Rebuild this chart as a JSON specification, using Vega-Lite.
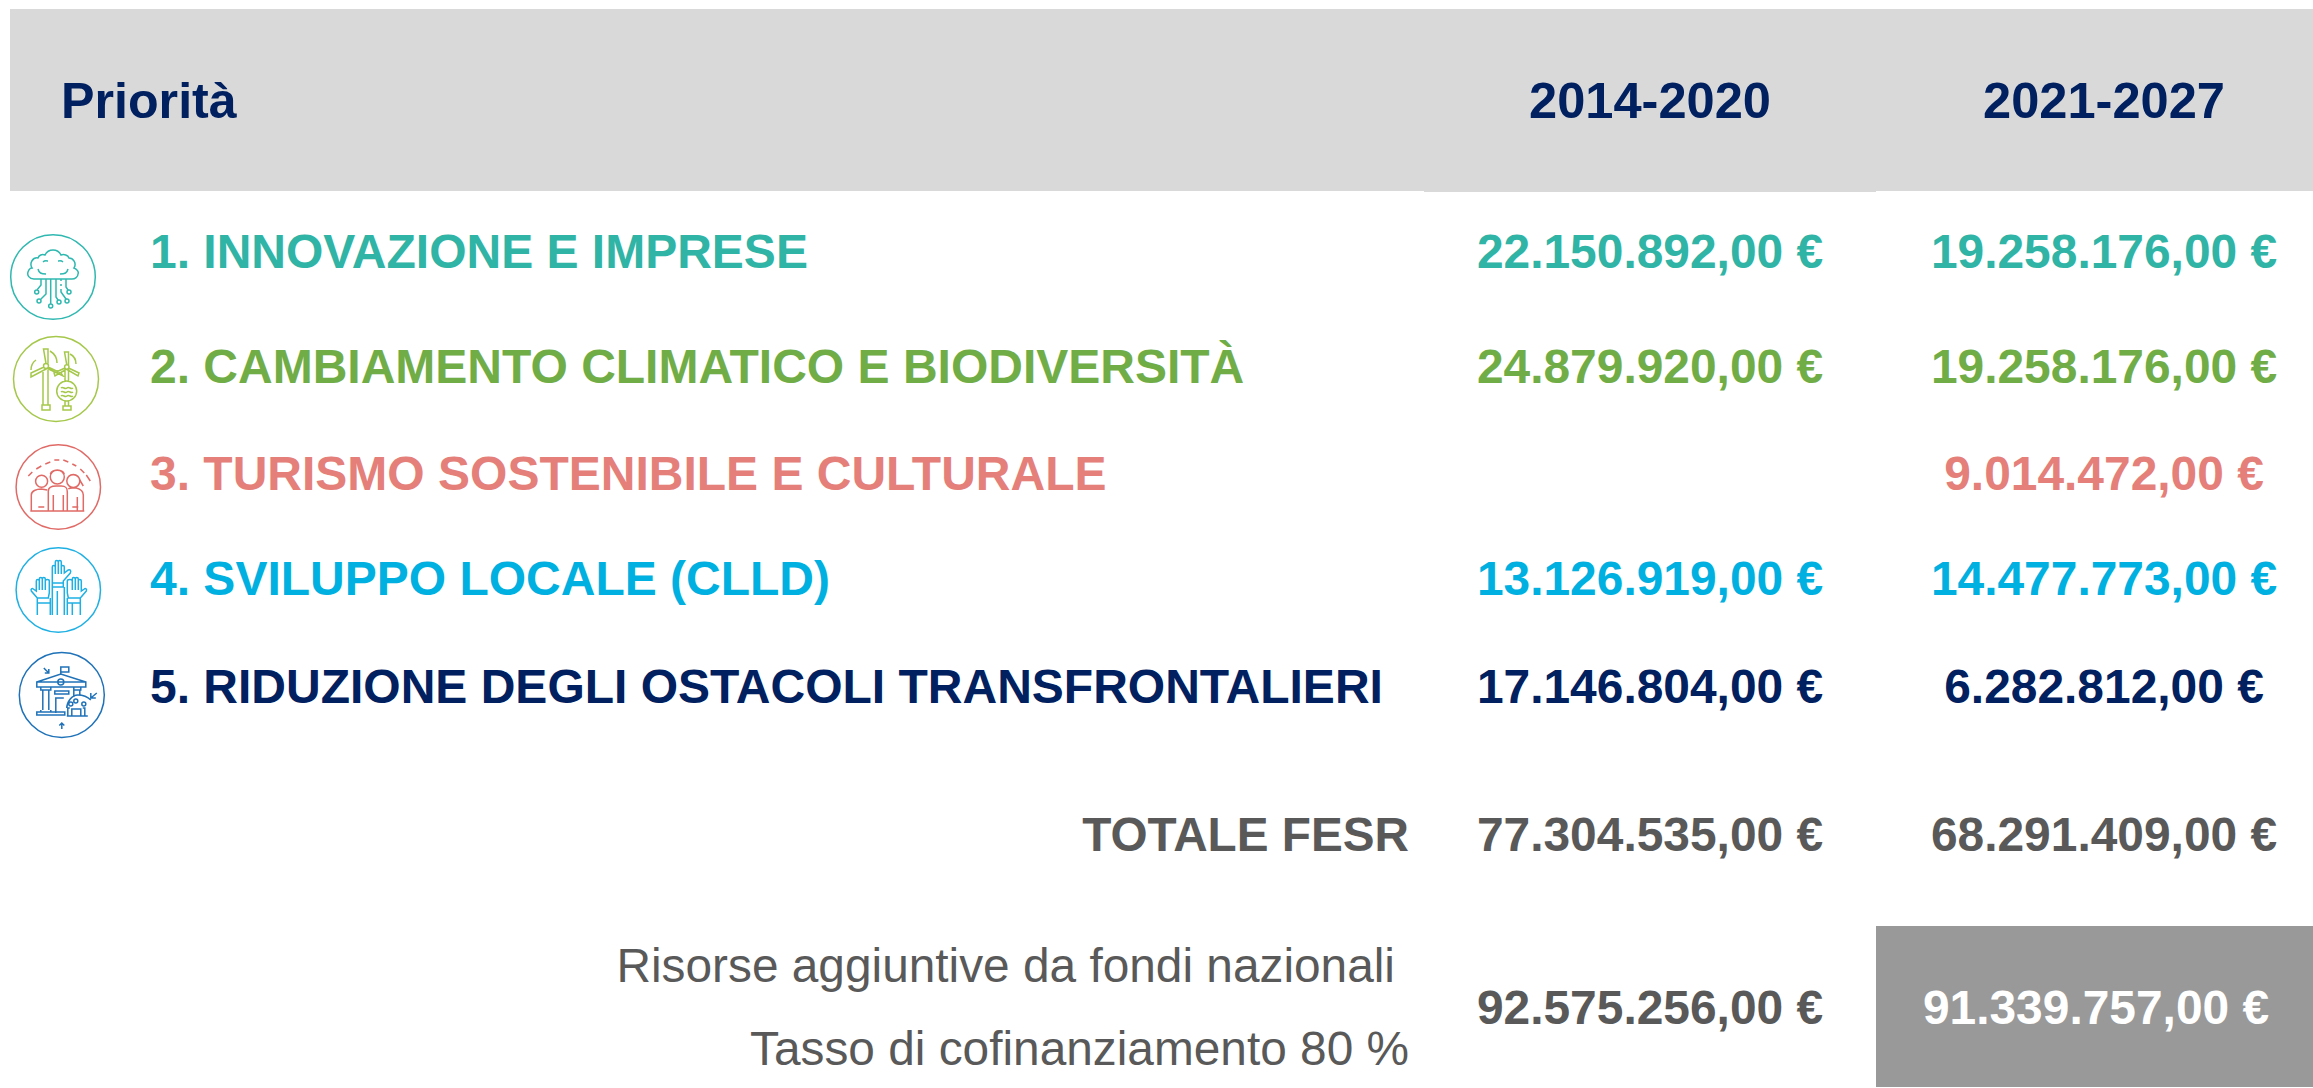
{
"$schema":"https://vega.github.io/schema/vega-lite/v6.json",
"width":2313,"height":1088,"padding":0,
"autosize":{"type":"fit","contains":"padding"},
"background":"#ffffff",
"config":{"view":{"stroke":null}},
"datasets":{
"sfondi":[
{"gruppo":"sfondo","col":1,"col2":15,"riga":1,"riga2":3},
{"gruppo":"sfondo","col":10,"col2":12,"riga":3,"riga2":3.5},
{"gruppo":"riquadro","col":12,"col2":15,"riga":15,"riga2":19}
],
"icone":[
{"icona":"1","col":2,"riga":5},
{"icona":"2","col":3,"riga":6},
{"icona":"3","col":4,"riga":8},
{"icona":"4","col":4,"riga":10},
{"icona":"5","col":6,"riga":12}
],
"testata":[{"gruppo":"testata","col":5,"riga":2,"testo":"Priorità"}],
"anni":[
{"gruppo":"testata","col":11,"riga":2,"testo":"2014-2020"},
{"gruppo":"testata","col":14,"riga":2,"testo":"2021-2027"}
],
"voci":[
{"gruppo":"p1","col":7,"riga":4,"testo":"1. INNOVAZIONE E IMPRESE"},
{"gruppo":"p2","col":7,"riga":7,"testo":"2. CAMBIAMENTO CLIMATICO E BIODIVERSITÀ"},
{"gruppo":"p3","col":7,"riga":9,"testo":"3. TURISMO SOSTENIBILE E CULTURALE"},
{"gruppo":"p4","col":7,"riga":11,"testo":"4. SVILUPPO LOCALE (CLLD)"},
{"gruppo":"p5","col":7,"riga":13,"testo":"5. RIDUZIONE DEGLI OSTACOLI TRANSFRONTALIERI"}
],
"importi":[
{"gruppo":"p1","col":11,"riga":4,"testo":"22.150.892,00 €"},
{"gruppo":"p1","col":14,"riga":4,"testo":"19.258.176,00 €"},
{"gruppo":"p2","col":11,"riga":7,"testo":"24.879.920,00 €"},
{"gruppo":"p2","col":14,"riga":7,"testo":"19.258.176,00 €"},
{"gruppo":"p3","col":14,"riga":9,"testo":"9.014.472,00 €"},
{"gruppo":"p4","col":11,"riga":11,"testo":"13.126.919,00 €"},
{"gruppo":"p4","col":14,"riga":11,"testo":"14.477.773,00 €"},
{"gruppo":"p5","col":11,"riga":13,"testo":"17.146.804,00 €"},
{"gruppo":"p5","col":14,"riga":13,"testo":"6.282.812,00 €"},
{"gruppo":"totale","col":11,"riga":14,"testo":"77.304.535,00 €"},
{"gruppo":"totale","col":14,"riga":14,"testo":"68.291.409,00 €"},
{"gruppo":"totale","col":11,"riga":17,"testo":"92.575.256,00 €"},
{"gruppo":"bianco","col":13,"riga":17,"testo":"91.339.757,00 €"}
],
"totale":[{"gruppo":"totale","col":9,"riga":14,"testo":"TOTALE FESR"}],
"note":[
{"gruppo":"totale","col":8,"riga":16,"testo":"Risorse aggiuntive da fondi nazionali"},
{"gruppo":"totale","col":9,"riga":18,"testo":"Tasso di cofinanziamento 80 %"}
]
},
"encoding":{
"x":{"field":"col","type":"quantitative","axis":null,"scale":{"nice":false,"zero":false,
"domain":[0,1,2,3,4,5,6,7,8,9,10,11,12,13,14,15],
"range":[0,10,53,56,58.3,61,61.8,150,1395,1409,1424,1650,1876,2096,2104,2313]}},
"y":{"field":"riga","type":"quantitative","axis":null,"scale":{"nice":false,"zero":false,
"domain":[0,1,2,3,3.5,4,5,6,7,8,9,10,11,12,13,14,15,16,17,18,19,20],
"range":[0,9,118,191,192,268,277,379,383,487,490,590,595,695,703,851,926,982,1024,1065,1087,1088]}},
"color":{"field":"gruppo","type":"nominal","legend":null,"scale":{
"domain":["sfondo","riquadro","testata","p1","p2","p3","p4","p5","totale","bianco"],
"range":["#D9D9D9","#999999","#002060","#2FB4A5","#70AD47","#E57F7A","#00B0E0","#002060","#595959","#FFFFFF"]}}
},
"layer":[
{"data":{"name":"sfondi"},"mark":{"type":"rect"},"encoding":{"x2":{"field":"col2"},"y2":{"field":"riga2"}}},
{"data":{"name":"icone"},"mark":{"type":"point","filled":false,"size":4,"strokeWidth":1.5,"opacity":1},
"encoding":{"color":{"value":null},
"stroke":{"field":"icona","type":"nominal","legend":null,"scale":{"domain":["1","2","3","4","5"],"range":["#2FB8B0","#A5C84B","#E06A66","#1FB0E3","#1F72B8"]}},
"shape":{"field":"icona","type":"nominal","legend":null,"scale":{"domain":["1","2","3","4","5"],"range":[
"M42.3,0A42.3,42.3 0 1 1 -42.3,0A42.3,42.3 0 1 1 42.3,0ZM-19,2C-24,2 -26,-2 -25,-5C-24,-8 -22,-9 -21,-9C-24,-14 -20,-20 -15,-19C-14,-22 -11,-23 -8,-22C-6,-26 -3,-27 0,-27C3,-27 6,-26 8,-22C11,-23 15,-22 16,-19C20,-19 24,-14 21,-9C24,-8 26,-5 25,-3C25,0 22,2 19,2ZM-15,-8C-14,-4 -12,-3 -7,-3M15,-8C14,-4 12,-3 7,-3M-10,-15C-8,-17 -6,-16 -5,-16M10,-15C8,-17 6,-16 5,-16M-12,2V8L-16,13M-7,2V17L-12,22M-2.3,2V27M3,2V20L5,23M8,2V4M8,7V9M8,12V15L13,22M13,2V10L15,13M-14.3,15A2,2 0 1 1 -18.3,15A2,2 0 1 1 -14.3,15ZM-12,24A2,2 0 1 1 -16,24A2,2 0 1 1 -12,24ZM-0.3,29A2,2 0 1 1 -4.3,29A2,2 0 1 1 -0.3,29ZM8,25A2,2 0 1 1 4,25A2,2 0 1 1 8,25ZM16,24A2,2 0 1 1 12,24A2,2 0 1 1 16,24ZM18,15A2,2 0 1 1 14,15A2,2 0 1 1 18,15Z",
"M42.5,0A42.5,42.5 0 1 1 -42.5,0A42.5,42.5 0 1 1 42.5,0ZM-14,31V26H-6V31ZM-13,26V-9M-8,26V-9M-7.5,-13A2.5,2.5 0 1 1 -12.5,-13A2.5,2.5 0 1 1 -7.5,-13ZM-10,-15.5L-12.5,-30H-8L-8,-15.5M-12,-12L-25,-6L-25,-2L-9,-10.5M-8,-12L5,-6L7,-3L-8.5,-10.5M-25,-9C-25,-14 -23,-17 -20,-19M-6,-28C-1,-25 1,-20 1,-16M13,-12A2.2,2.2 0 1 1 8.6,-12A2.2,2.2 0 1 1 13,-12ZM10.8,-14L8.5,-27H12.5L12.5,-14M12.5,-11L23,-6L22,-3L11,-9.5M9,-11L-2,-6L-1,-3L10,-9.5M14,-25C18,-23 20,-19 20,-15M9,-10V2M12.5,-10V2M20.7,12A10,10 0 1 1 0.7,12A10,10 0 1 1 20.7,12ZM5,9C7,7 9,11 11,9C13,7 15,11 17,9M5,13C7,11 9,15 11,13C13,11 15,15 17,13M5,17C7,15 9,19 11,17C13,15 15,19 17,17M9,22V27M12.5,22V27M7,31V27H15V31Z",
"M42.2,0A42.2,42.2 0 1 1 -42.2,0A42.2,42.2 0 1 1 42.2,0ZM-30,-11L-26,-15M-22,-18L-17,-21M-13,-23L-8,-25M-4,-27L1,-27M5,-27L10,-25M14,-23L18,-21M22,-18L26,-14M28,-12L32,-6M-28,24H26M-10.7,-5.7A6,6 0 1 1 -22.7,-5.7A6,6 0 1 1 -10.7,-5.7ZM-27,24V8C-27,4 -22,2 -17,2L-11,3M6,-10A7,7 0 1 1 -8,-10A7,7 0 1 1 6,-10ZM-8,-13C-6,-18 4,-18 6,-13M-10,24V4C-10,0 -6,-1 -2,-1H3C8,-1 9,1 9,5V24M-5,8V24M5,8V24M21.5,-6A6.5,6.5 0 1 1 8.5,-6A6.5,6.5 0 1 1 21.5,-6ZM9,-8C11,-14 20,-14 22,-6L25,-1M10,2C11,1 13,1 14,1H18C22,2 25,4 25,8V24M19,10V24M-20,20H-14M14,20H20",
"M42.2,0A42.2,42.2 0 1 1 -42.2,0A42.2,42.2 0 1 1 42.2,0ZM-6,-7V-23C-6,-25 -3,-25 -3,-23V-28C-3,-30 0,-30 0,-28C0,-30 3,-30 3,-28V-23C3,-25 6,-25 6,-23V-17L10,-20C12,-21 13,-19 12,-17L5,-9V-7ZM-3,-23V-16M0,-28V-16M3,-28V-16M-6,-7V-3H5V-7M-6,-3V25M6,-3V25M-1,25V1M-21,8L-27,1C-28,-1 -26,-2 -25,-1L-22,1V-9C-22,-11 -19,-11 -19,-9V-11C-19,-13 -16,-13 -16,-11C-16,-13 -13,-13 -13,-11V-9C-13,-11 -9,-11 -9,-9V3L-10,8ZM-19,-9V0M-16,-11V0M-13,-11V0M-21,8V13H-8V8M-21,13V25M-8,13V25M22,8L28,1C29,-1 27,-2 26,-1L23,1V-9C23,-11 20,-11 20,-9V-11C20,-13 17,-13 17,-11C17,-13 14,-13 14,-11V-9C14,-11 9,-11 9,-9V3L10,8ZM20,-9V0M17,-11V0M14,-11V0M22,8V13H9V8M22,13V25M9,13V25M14,13V25",
"M42.5,0A42.5,42.5 0 1 1 -42.5,0A42.5,42.5 0 1 1 42.5,0ZM-25,-13L-1,-21L24,-13M-25,-13V-8H24V-13ZM-1,-21V-28H7V-23H-1M2,-13A3,3 0 1 1 -4,-13A3,3 0 1 1 2,-13ZM-21,-8V-5H-11V-8M-19,-5V15M-13,-5V15M-21,15V17H-11V15M12,-8V-5H19V-8M12,-5V2M18,-5V1M-7,-4H7V-1H-7ZM-6,18V3H2M-25,20V17H3V20ZM-7,17H2M5,13C5,7 10,0 16,0C22,0 26,2 29,5M16,6A2,2 0 1 1 12,6A2,2 0 1 1 16,6ZM11,9A2,2 0 1 1 7,9A2,2 0 1 1 11,9ZM24,9A2,2 0 1 1 20,9A2,2 0 1 1 24,9ZM10,21V14H19V21M6,21V13H8M23,21V13H21M5,21H26M-18,-27L-13,-22M-13,-26V-22H-17M35,-2L29,3M29,-2V3H34M0,34V28M-2.5,30.5L0,28L2.5,30.5"
]}}}},
{"data":{"name":"testata"},"mark":{"type":"text","font":"Liberation Sans","fontWeight":"bold","fontSize":50.2,"align":"left","baseline":"alphabetic"},"encoding":{"text":{"field":"testo"}}},
{"data":{"name":"anni"},"mark":{"type":"text","font":"Liberation Sans","fontWeight":"bold","fontSize":50.6,"align":"center","baseline":"alphabetic"},"encoding":{"text":{"field":"testo"}}},
{"data":{"name":"voci"},"mark":{"type":"text","font":"Liberation Sans","fontWeight":"bold","fontSize":48,"align":"left","baseline":"alphabetic"},"encoding":{"text":{"field":"testo"}}},
{"data":{"name":"importi"},"mark":{"type":"text","font":"Liberation Sans","fontWeight":"bold","fontSize":47.9,"align":"center","baseline":"alphabetic"},"encoding":{"text":{"field":"testo"}}},
{"data":{"name":"totale"},"mark":{"type":"text","font":"Liberation Sans","fontWeight":"bold","fontSize":47.7,"align":"right","baseline":"alphabetic"},"encoding":{"text":{"field":"testo"}}},
{"data":{"name":"note"},"mark":{"type":"text","font":"Liberation Sans","fontWeight":"normal","fontSize":47.8,"align":"right","baseline":"alphabetic"},"encoding":{"text":{"field":"testo"}}}
]
}
